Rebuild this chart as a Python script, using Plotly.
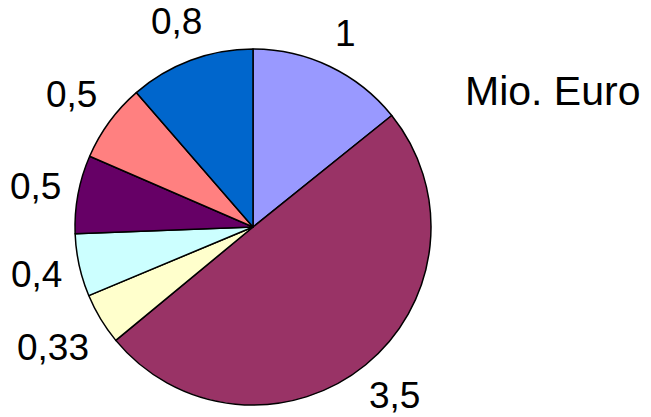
import math
import plotly.graph_objects as go

labels = ["1", "3,5", "0,33", "0,4", "0,5", "0,5", "0,8"]
values = [1, 3.5, 0.33, 0.4, 0.5, 0.5, 0.8]
colors = ["#9999FF", "#993366", "#FFFFCC", "#CCFFFF", "#660066", "#FF8080", "#0066CC"]
unit_text = "Mio. Euro"

W, H = 651, 417
cx_px, cy_px, R = 253, 227, 178

fig = go.Figure(go.Pie(
    values=values,
    labels=[f"s{i}" for i in range(len(values))],
    marker=dict(colors=colors, line=dict(color="black", width=1.5)),
    sort=False,
    direction="clockwise",
    rotation=0,
    textinfo="none",
    hoverinfo="skip",
    showlegend=False,
    domain=dict(x=[(cx_px - R) / W, (cx_px + R) / W],
                y=[1 - (cy_px + R) / H, 1 - (cy_px - R) / H]),
))

FS = 37
FONT = "Liberation Sans, Arial, sans-serif"
total = sum(values)
cum = 0.0
annotations = []
half_box = 0.59 * FS
for lab, v in zip(labels, values):
    mid = (cum + v / 2) / total * 2 * math.pi
    cum += v
    s, c = math.sin(mid), math.cos(mid)
    w = 0.556 * FS * sum(0.5 if ch == "," else 1 for ch in lab)
    h = FS
    ext = abs(s) * w / 2 + abs(c) * h / 2
    r = R + 15 + ext
    x = cx_px + r * s
    y = cy_px - r * c
    y = min(max(y, half_box), H - half_box)
    annotations.append(dict(
        x=x / W, y=1 - y / H, xref="paper", yref="paper",
        text=lab, showarrow=False, xanchor="center", yanchor="middle",
        font=dict(family=FONT, size=FS, color="black"),
    ))

annotations.append(dict(
    x=463 / W, y=1 - 91 / H, xref="paper", yref="paper",
    text=unit_text, showarrow=False, xanchor="left", yanchor="middle",
    font=dict(family=FONT, size=41, color="black"),
))

fig.update_layout(
    width=W, height=H,
    margin=dict(l=0, r=0, t=0, b=0),
    paper_bgcolor="white", plot_bgcolor="white",
    annotations=annotations,
)
fig.write_html("out.html")
